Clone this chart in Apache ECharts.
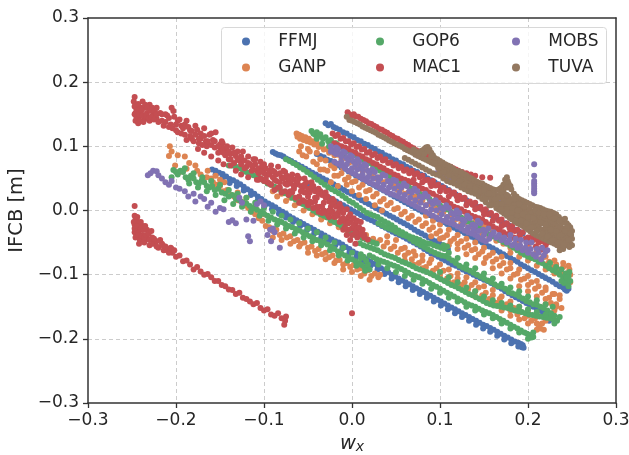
<!DOCTYPE html>
<html><head><meta charset="utf-8">
<style>html,body{margin:0;padding:0;background:#fff}#c{width:629px;height:455px}</style>
<script src="https://cdn.jsdelivr.net/npm/echarts@6/dist/echarts.min.js"></script>
</head><body><div id="c"></div>
<script>
// All values: flat x,y pairs, in thousandths.
const seriesNames = ['FFMJ','GANP','GOP6','MAC1','MOBS','TUVA'];
const ffmj = [
-30,136,-27,133,-24,135,-21,130,-18,128,-14,126,-10,122,-6,120,-2,116,2,114,6,110,10,108,14,104,18,102,22,98,26,96,30,92,34,90,38,86,42,84,46,80,50,78,54,74,58,72,62,68,66,66,70,62,74,60,78,56,82,54,86,50,90,47,94,44,98,41,102,38,106,35,110,32,114,28,118,25,122,22,126,19,130,16,134,12,138,9,142,6,146,3,150,0,154,-4,158,-7,162,-10,166,-14,170,-17,174,-20,178,-23,182,-27,186,-30,190,-33,194,-36,
-40,88,-36,85,-32,83,-28,79,-24,77,-20,73,-16,71,-12,67,-8,65,-4,61,0,58,4,55,8,52,12,49,16,46,20,43,24,40,28,37,32,34,36,31,40,28,44,25,48,22,52,19,56,16,60,13,64,10,68,7,72,4,76,1,80,-2,84,-4,88,-7,92,-10,96,-13,100,-15,104,-18,108,-21,112,-24,116,-27,120,-30,124,-32,128,-35,132,-38,136,-41,140,-44,144,-47,148,-50,152,-53,156,-56,160,-59,164,-62,168,-65,172,-68,176,-71,180,-74,184,-77,188,-80,192,-84,196,-87,200,-90,204,-93,208,-96,212,-99,216,-102,220,-105,224,-108,228,-111,232,-115,236,-118,240,-120,242,-123,244,-125,246,-122,245,-118,241,-116,
-90,91,-87,89,-84,87,-81,86,-78,84,-75,81,-72,79,-69,77,-65,74,-61,71,-57,68,-53,65,-49,62,-45,59,-41,56,-37,53,-33,50,-29,47,-25,44,-21,41,-17,38,-13,35,-9,32,-5,29,-1,26,3,23,7,20,11,16,15,13,19,10,23,7,27,4,31,1,35,-2,39,-5,43,-8,47,-11,51,-14,55,-17,59,-20,63,-23,67,-26,71,-30,75,-33,79,-36,83,-39,87,-42,91,-45,95,-48,99,-51,103,-54,106,-56,109,-60,
-50,38,-46,35,-42,32,-38,30,-34,27,-30,24,-26,20,-22,17,-18,14,-14,11,-10,8,-6,5,-2,2,2,-1,6,-4,10,-7,14,-10,18,-13,22,-15,26,-18,30,-21,34,-24,38,-27,42,-30,46,-33,50,-36,54,-38,58,-41,62,-44,66,-47,70,-50,74,-53,78,-56,82,-60,86,-63,90,-67,94,-69,98,-72,102,-75,106,-78,110,-81,114,-84,118,-86,122,-89,126,-92,130,-95,134,-97,138,-100,142,-103,146,-105,150,-108,154,-110,158,-113,162,-116,166,-119,170,-122,174,-126,178,-129,182,-132,186,-135,190,-138,194,-141,198,-144,202,-147,206,-150,210,-153,214,-156,218,-159,222,-163,226,-169,224,-172,220,-168,216,-164,
-159,64,-155,62,-151,59,-147,57,-143,53,-139,49,-135,47,-131,44,-127,41,-123,37,-119,33,-115,30,-111,26,-107,22,-103,18,-99,14,-95,11,-91,8,-87,5,-83,1,-79,-2,-75,-5,-71,-9,-67,-12,-63,-15,-59,-18,-55,-21,-51,-24,-47,-27,-43,-30,-39,-33,-35,-36,-31,-39,-27,-42,-23,-45,-19,-48,-15,-50,-11,-53,-7,-57,-3,-60,1,-64,5,-67,9,-70,13,-73,17,-76,21,-80,25,-83,29,-86,33,-90,37,-93,41,-96,45,-100,49,-103,53,-106,57,-109,61,-112,65,-115,69,-118,73,-121,77,-124,81,-127,85,-130,89,-133,93,-136,97,-139,101,-142,105,-145,109,-148,113,-151,117,-154,121,-157,125,-160,129,-163,133,-166,137,-169,141,-172,145,-175,149,-178,153,-180,157,-183,161,-186,165,-189,169,-192,173,-195,177,-198,181,-201,185,-204,189,-206,192,-208,194,-210,195,-214,193,-213,
-155,56,-147,51,-139,43,-131,38,-123,31,-115,24,-107,16,-99,8,-91,2,-83,-5,-75,-11,-67,-18,-59,-24,-51,-30,-43,-36,-35,-42,-27,-48,-19,-54,-11,-59,-3,-66,5,-73,13,-79,21,-86,29,-92,37,-99,45,-106,53,-112,61,-118,69,-124,77,-130,85,-136,93,-142,101,-148,109,-154,117,-160,125,-166,133,-172,141,-178,149,-184,157,-189,165,-195,173,-201,181,-207,189,-212
];
const ganp = [
-63,120,-62,115,-60,118,-59,112,-57,116,-55,110,-53,114,-51,108,-49,112,-47,106,-45,108,-43,103,-40,105,-38,99,-35,100,-32,95,-29,96,-26,90,-23,92,-20,86,-16,87,-12,80,-8,82,-4,74,0,76,4,68,8,70,12,62,16,64,20,56,24,58,28,50,32,52,36,44,40,46,44,38,48,40,52,32,56,34,60,26,64,28,68,20,72,22,76,14,80,16,84,8,88,10,92,2,96,4,100,-4,104,-2,108,-10,112,-8,116,-15,120,-13,124,-21,128,-19,132,-27,136,-25,140,-32,144,-30,148,-37,152,-35,156,-42,160,-40,164,-47,168,-45,172,-52,176,-50,180,-58,184,-55,188,-62,192,-60,196,-67,200,-64,204,-72,208,-69,212,-77,216,-74,220,-84,224,-80,228,-88,232,-84,236,-92,240,-88,244,-98,247,-92,248,-100,244,-104,240,-99,
-60,92,-56,86,-52,84,-48,92,-44,76,-40,72,-36,80,-32,64,-28,62,-24,70,-20,66,-16,54,-12,58,-8,48,-4,52,0,44,4,46,8,36,12,40,16,30,20,32,24,22,28,26,32,14,36,18,40,8,44,12,48,2,52,4,56,-6,60,-2,64,-12,68,-8,72,-18,76,-14,80,-24,84,-20,88,-30,92,-26,96,-36,100,-32,104,-42,108,-38,112,-48,116,-44,120,-52,124,-48,128,-58,132,-54,136,-62,140,-60,144,-68,148,-64,152,-74,156,-70,160,-80,164,-76,168,-86,172,-82,176,-92,180,-90,184,-100,188,-98,192,-108,196,-106,200,-116,204,-112,208,-122,212,-118,216,-128,220,-124,224,-136,228,-130,232,-146,236,-138,238,-152,232,-150,226,-144,220,-138,
-90,30,-85,22,-80,26,-75,15,-70,20,-65,8,-60,12,-55,0,-50,5,-45,-6,-40,-2,-35,-14,-30,-10,-25,-20,-20,-16,-15,-26,-10,-22,-5,-32,0,-28,4,-38,8,-34,12,-42,16,-38,20,-48,24,-44,28,-50,32,-46,36,-56,40,-50,44,-60,48,-56,52,-66,56,-60,60,-70,64,-66,68,-76,72,-70,76,-82,80,-78,84,-88,88,-82,92,-94,96,-90,100,-100,104,-94,108,-106,112,-102,116,-112,120,-106,124,-116,128,-112,132,-122,136,-116,140,-126,144,-120,148,-132,152,-128,156,-138,160,-132,164,-144,168,-138,172,-150,176,-146,180,-156,184,-152,188,-162,192,-158,196,-168,200,-164,204,-172,208,-168,212,-178,216,-176,218,-186,214,-184,210,-176,
-205,92,-208,85,-207,100,-198,86,-190,84,-201,70,-196,60,-188,65,-182,52,-176,62,-170,48,-164,62,-160,50,-158,44,-154,40,-150,38,-146,30,-142,32,-138,24,-134,22,-130,16,-126,14,-122,8,-118,4,-114,-2,-110,-6,-106,-12,-102,-16,-98,-24,-94,-26,-90,-32,-86,-30,-82,-38,-78,-36,-74,-42,-70,-40,-66,-48,-62,-46,-58,-52,-54,-50,-50,-58,-46,-56,-42,-63,-38,-60,-34,-68,-30,-66,-26,-73,-22,-70,-18,-78,-14,-77,-10,-84,-6,-82,-2,-88,2,-85,6,-92,10,-90,14,-98,18,-93,22,-102,26,-98,30,-104,32,-100,
84,-8,92,-16,100,-22,110,-30,120,-38,130,-44,140,-50,150,-58,160,-66,170,-72,180,-82,190,-92,200,-102,210,-110,220,-120,230,-130,236,-132,
90,-40,100,-44,110,-54,120,-60,130,-68,140,-74,150,-82,160,-90,170,-98,180,-106,190,-118,200,-126,210,-134,220,-146,230,-156,
40,-40,50,-46,60,-58,70,-64,80,-70,90,-76,100,-84,110,-92,120,-98,130,-104,140,-112,150,-118,160,-124,170,-134,180,-142,190,-150,200,-156,210,-162,220,-172,
60,-78,70,-84,80,-90,90,-98,100,-106,110,-112,120,-118,130,-126,140,-134,150,-140,160,-146,170,-156,180,-164,190,-170,200,-176,210,-186,
120,-4,130,-10,140,-18,150,-24,160,-32,170,-38,180,-44,190,-50,200,-56,210,-64,220,-72,230,-78,240,-82,246,-86,
180,-66,190,-72,200,-78,210,-86,220,-92,230,-98,240,-110,248,-112,
-40,90,-30,78,-36,64,-20,54,-24,44,-16,38,-10,66,-6,40,0,30,8,24,16,18,26,8,34,0,-58,100,-50,96,
-90,-42,-80,-46,-70,-52,-60,-56,-50,-66,-40,-70,-30,-76,-20,-82,-10,-92,0,-96,10,-102,20,-108,-130,28,-120,20,-110,6,-100,-6,-185,74,-178,70,-172,56,-165,52,-155,54,-150,48,-145,44
];
const gop6 = [
-46,124,-44,120,-42,118,-40,122,-38,116,-36,119,-33,112,-30,114,-27,108,-24,110,-21,104,-18,105,-15,100,-12,98,-8,96,-4,92,0,90,4,86,8,84,12,80,16,76,20,74,24,70,28,66,32,62,36,60,40,56,44,52,48,50,52,46,56,44,60,40,64,38,68,34,72,32,76,28,80,24,84,22,88,18,92,14,96,12,100,8,104,4,108,2,112,-2,116,-5,120,-8,124,-11,128,-14,132,-17,136,-20,140,-23,144,-26,148,-30,152,-34,156,-37,160,-40,164,-43,168,-46,172,-49,176,-52,180,-55,184,-58,188,-62,192,-66,196,-69,200,-72,204,-74,208,-76,212,-80,216,-82,220,-86,224,-90,228,-93,232,-96,236,-100,240,-104,243,-108,245,-112,246,-118,243,-98,246,-102,241,-113,238,-110,
-75,80,-71,77,-67,74,-63,71,-59,67,-55,64,-51,60,-47,56,-43,52,-39,48,-35,44,-31,40,-27,36,-23,33,-19,30,-15,27,-11,23,-7,19,-3,15,1,12,5,8,9,4,13,0,17,-4,21,-6,25,-8,29,-10,33,-14,37,-17,41,-20,45,-23,49,-27,53,-31,57,-34,61,-37,65,-40,69,-42,73,-44,77,-46,81,-49,85,-51,89,-52,93,-54,97,-56,101,-58,105,-60,108,-56,104,-54,
-140,70,-136,70,-132,68,-128,66,-124,63,-120,60,-116,58,-112,55,-108,52,-104,50,-100,46,-96,42,-92,40,-88,37,-84,34,-80,30,-76,27,-72,24,-68,20,-64,17,-60,14,-56,10,-52,7,-48,4,-44,0,-40,-3,-36,-6,-32,-8,-28,-11,-24,-15,-20,-18,-16,-21,-12,-24,-8,-28,-4,-32,0,-35,4,-38,8,-40,12,-43,16,-45,20,-48,24,-50,28,-52,
30,-20,34,-23,38,-26,42,-28,46,-30,50,-33,54,-36,58,-38,62,-40,66,-44,70,-48,74,-51,78,-54,82,-57,86,-60,90,-63,94,-66,98,-68,102,-70,106,-71,110,-74,114,-78,118,-82,122,-86,126,-89,130,-91,134,-94,138,-97,142,-100,146,-103,150,-106,154,-109,158,-112,162,-115,166,-118,170,-119,174,-122,178,-127,182,-129,186,-131,190,-134,194,-137,198,-141,202,-143,206,-146,210,-147,214,-150,218,-152,222,-156,226,-160,
9,-51,13,-54,17,-56,21,-58,25,-60,29,-62,33,-65,37,-68,41,-70,45,-72,49,-74,53,-77,57,-80,61,-82,65,-84,69,-87,73,-90,77,-92,81,-94,85,-96,89,-98,93,-101,97,-104,101,-107,105,-110,109,-113,113,-116,117,-118,121,-121,125,-124,129,-127,133,-130,137,-132,141,-135,145,-138,149,-141,153,-144,157,-146,161,-148,165,-149,169,-150,173,-151,177,-152,181,-154,185,-156,189,-157,193,-158,197,-160,201,-162,205,-163,209,-164,213,-165,217,-166,221,-167,225,-168,229,-170,233,-172,230,-164,226,-161,
-203,63,-200,60,-198,56,-205,52,-195,62,-192,60,-189,52,-186,48,-183,54,-180,50,-177,44,-174,42,-171,46,-168,44,-165,38,-162,36,-159,38,-156,32,-152,34,-148,28,-144,26,-140,22,-136,24,-132,18,-128,16,-124,13,-120,11,-116,7,-112,4,-108,1,-104,-2,-100,-5,-96,-8,-92,-11,-88,-14,-84,-16,-80,-18,-76,-21,-72,-24,-68,-26,-64,-29,-60,-31,-56,-34,-52,-37,-48,-40,-44,-43,-40,-46,-36,-48,-32,-50,-28,-53,-24,-56,-20,-60,-16,-64,-12,-67,-8,-70,-4,-73,0,-76,4,-79,8,-82,11,-85,14,-88,17,-90,20,-92,18,-84,16,-78,13,-72,10,-68,
20,-70,24,-73,28,-76,32,-78,36,-80,40,-82,44,-84,48,-86,52,-88,56,-91,60,-94,64,-97,68,-100,72,-102,76,-104,80,-107,84,-110,88,-113,92,-116,96,-119,100,-122,104,-125,108,-128,112,-131,116,-134,120,-137,124,-140,128,-143,132,-146,136,-148,140,-150,144,-153,148,-156,152,-158,156,-160,160,-163,164,-166,168,-169,172,-172,176,-175,180,-178,184,-181,188,-184,192,-187,196,-190,199,-192,202,-194,204,-198,206,-197,206,-190,
-190,66,-180,58,-170,52,-160,46,-150,40,-140,32,-130,26,-120,20,-110,12,-100,4,-90,-2,-80,-8,-70,-14,-60,-20,-50,-28,-40,-34,-30,-42,-20,-50,-10,-58,0,-66,10,-74,
-185,42,-175,36,-165,30,-155,24,-145,16,-135,10,-125,6,-115,-2,-105,-8,-95,-16,-85,-22,-75,-28,-65,-36,-55,-42,-45,-48,-35,-54,-25,-62,-15,-70,-5,-78,5,-86,15,-94,
-40,112,-34,104,-26,100,-18,94,-10,88,-2,84,6,78,
30,-84,40,-90,50,-96,60,-102,70,-108,80,-114,90,-122,100,-128,110,-136,120,-142,130,-150,140,-156,150,-162,160,-168,170,-176,180,-184,190,-190,200,-200,
100,-96,110,-104,120,-112,130,-120,140,-126,150,-134,160,-140,170,-144,180,-148,190,-150,200,-154,210,-158,220,-162,230,-176,236,-166,
110,-66,120,-74,130,-84,140,-90,150,-98,160,-106,170,-114,180,-120,190,-126,200,-134,210,-140,220,-146,228,-150,
225,-82,232,-88,238,-92,244,-104,248,-110,247,-96
];
const mac1 = [
-5,153,-3,150,-1,148,2,150,4,147,7,146,10,143,13,141,16,139,19,136,22,135,25,132,28,130,31,127,34,126,37,123,40,121,43,118,46,116,49,113,52,112,55,109,58,107,61,104,64,102,67,99,70,97,73,94,76,92,79,90,82,88,85,86,88,84,91,82,94,80,97,78,100,75,103,72,106,71,109,69,112,68,115,66,118,64,121,62,125,60,130,58,135,56,140,54,148,52,157,51,
-22,120,-19,116,-16,118,-13,112,-10,113,-7,108,-4,108,-1,103,2,105,5,99,8,100,11,95,14,96,17,90,20,91,23,86,26,88,29,82,32,84,35,78,38,80,41,74,44,75,47,70,50,72,53,66,56,68,59,62,62,64,65,58,68,62,71,56,74,58,77,52,80,54,83,47,86,48,89,43,92,46,95,39,98,40,101,35,104,36,107,30,110,31,113,26,116,28,119,22,122,23,125,18,128,20,131,13,134,14,137,9,140,12,143,4,146,6,149,0,152,2,155,-6,158,-4,161,-11,164,-8,167,-16,170,-14,173,-22,176,-20,179,-27,182,-24,185,-32,188,-30,191,-38,194,-34,197,-44,200,-42,203,-50,206,-46,209,-56,212,-50,215,-60,216,-48,219,-62,220,-54,222,-50,213,-62,
-20,105,-16,102,-12,100,-8,98,-4,96,0,92,4,90,8,86,12,84,16,80,20,78,24,74,28,72,32,68,36,66,40,62,44,60,48,56,52,54,56,50,60,48,64,46,68,44,72,40,76,38,80,34,84,32,88,28,92,26,96,22,100,20,104,16,108,14,112,10,116,6,120,4,124,2,128,-2,132,-4,136,-8,140,-10,144,-12,148,-14,152,-18,156,-22,160,-25,164,-28,168,-31,172,-34,176,-37,180,-40,184,-42,188,-44,
-247,177,-246,165,-245,158,-247,150,-244,146,-246,140,-243,136,-240,160,-240,148,-238,170,-236,160,-236,142,-233,152,-230,165,-230,140,-226,150,-222,143,-222,160,-216,140,-212,150,-208,130,-205,160,-203,155,-200,125,-198,140,-194,132,-190,118,-188,140,-184,125,-182,112,-178,132,-174,105,-172,120,-168,128,-165,100,-162,118,-158,110,-155,122,-150,103,-147,105,-150,92,-143,96,-140,80,-136,98,-132,85,-128,78,-124,92,-120,68,-118,84,-112,80,-108,62,-104,76,-100,72,-96,56,-92,70,-88,60,-84,68,-80,52,-76,60,-72,48,-68,56,-64,40,-60,50,-56,36,-52,44,-48,28,-44,38,-40,20,-36,30,-32,12,-28,22,-24,6,-20,14,-16,-4,-12,4,-8,-18,-4,-10,0,-28,4,-20,8,-36,12,-30,18,-45,14,-38,6,-42,
-175,96,-168,90,-160,84,-152,78,-146,72,-138,70,-132,62,-126,56,-118,52,-112,64,-106,48,-100,58,-94,42,-88,48,-82,36,-76,42,-70,30,-66,34,-60,22,-54,28,-48,14,-42,20,-36,6,-30,-2,-26,-10,-22,-2,-14,-18,-10,-30,-6,-38,-2,-46,4,-52,
-172,112,-166,108,-160,102,-156,98,-152,90,-148,98,-144,86,-138,88,-134,74,-130,92,-126,72,-122,78,-116,72,-114,62,-110,72,-106,66,-102,62,-98,66,-94,56,-90,52,-86,56,-82,58,-78,50,-74,54,-70,42,-66,48,-62,44,-58,38,-54,40,-50,34,-46,36,-42,30,-38,26,-34,24,-30,20,-26,14,-22,10,-18,6,-14,0,-10,-4,-6,-14,-2,-18,2,-24,6,-28,10,-36,14,-42,0,-38,-4,-30,-8,-26,-12,-14,-16,-8,-20,-10,-24,-4,-28,-6,-32,0,-34,-4,-38,-2,-40,6,-44,4,-46,12,-50,8,-54,14,-56,16,-60,12,-64,20,-68,28,-72,24,-76,30,-80,28,-84,36,-88,32,-92,40,-96,44,-100,46,-104,50,-108,48,
-248,170,-247,162,-246,152,-245,146,-244,156,-243,166,-242,150,-241,140,-239,156,-238,148,-237,138,-235,165,-234,148,-232,160,-231,144,-229,156,-228,146,-227,160,-225,142,-224,155,-222,150,-220,138,-218,152,-216,150,-214,132,-212,138,-210,148,-208,144,-206,134,-204,128,-202,146,-200,134,-198,122,-196,142,-194,120,-192,128,-190,134,-188,110,-186,130,-184,116,-182,124,-180,108,-178,118,-176,126,-174,112,-170,102,-168,116,-164,108,-160,120,-156,108,-152,100,-148,108,-146,90,-142,100,-140,92,-138,80,-134,90,-130,80,-126,84,-122,66,-118,74,-114,70,-110,80,-106,58,-102,70,-98,50,-94,62,-90,62,-86,46,-82,44,-78,62,-74,40,-70,52,-66,38,-62,54,-58,30,-54,50,-50,22,-46,44,-42,14,-38,34,-34,6,-30,28,-26,0,-22,18,-18,-8,-14,10,-10,-12,-6,2,-2,-6,2,-12,6,-16,10,-18,-4,-20,4,-34,8,-26,12,-38,
70,48,80,44,90,38,100,30,110,22,120,16,130,8,140,2,150,-6,160,-16,170,-24,180,-32,190,-40,200,-50,205,-40,210,-44,214,-44,218,-48,
-247,7,-247,-8,-246,-14,-247,-22,-245,-28,-247,-34,-245,-40,-243,-18,-242,-32,-241,-46,-238,-24,-238,-38,-236,-50,-233,-30,-232,-44,-230,-54,-227,-42,-226,-52,-222,-48,-220,-58,-216,-52,-214,-62,-210,-62,-206,-58,-204,-66,-200,-72,-196,-70,-192,-79,-188,-78,-184,-84,-180,-92,-176,-88,-172,-95,-168,-100,-164,-99,-160,-104,-156,-110,-152,-110,-148,-116,-144,-118,-140,-123,-136,-124,-132,-130,-128,-128,-124,-136,-120,-138,-116,-142,-112,-146,-108,-144,-104,-152,-100,-156,-96,-154,-92,-162,-88,-164,-84,-160,-80,-168,-76,-172,-75,-165,-77,-178,
-248,-18,-247,-28,-246,-42,-244,-10,-244,-24,-243,-38,-242,-52,-240,-18,-240,-28,-239,-40,-237,-30,-236,-42,-235,-24,-234,-38,-231,-36,-230,-46,-228,-32,-225,-44,-222,-56,-218,-46,-215,-54,-212,-56,-208,-66,-205,-60,-202,-62,
0,-160
];
const mobs = [
-232,55,-229,58,-226,62,-222,61,-220,55,-216,50,-212,44,-208,40,-205,46,-200,36,-196,34,-190,30,-186,22,-180,26,-178,14,-172,22,-168,18,-164,6,-160,12,-155,-2,-150,4,-146,2,-140,-18,-136,-15,-132,-20,-128,20,-125,12,-120,-14,-118,-40,-116,-48,-112,-16,-108,10,-104,14,-100,8,-96,-38,-93,-30,-90,-28,-92,-48,-88,-34,-82,-58,
-24,100,-22,94,-20,90,-18,98,-16,96,-14,88,-12,84,-10,92,-8,90,-6,82,-4,78,-2,86,0,84,2,76,4,72,6,80,8,76,10,68,12,64,14,72,16,70,18,62,20,58,23,64,26,60,29,52,32,50,35,56,38,54,41,46,44,42,47,48,50,46,53,38,56,36,59,42,62,38,65,30,68,28,71,34,74,30,77,22,80,20,83,26,86,22,89,14,92,10,95,16,98,12,101,4,104,2,107,8,110,4,113,-4,116,-6,119,0,122,-4,125,-14,128,-16,131,-8,134,-12,137,-22,140,-24,143,-16,146,-20,149,-30,152,-32,155,-28,158,-38,161,-34,164,-42,167,-38,170,-46,173,-42,176,-50,179,-46,182,-54,185,-52,188,-58,191,-54,194,-62,197,-58,200,-66,203,-60,206,-68,209,-72,212,-66,215,-76,218,-70,220,-64,
-20,76,-16,73,-12,70,-8,66,-4,62,0,59,4,56,8,53,12,50,16,47,20,44,24,41,28,38,32,35,36,32,40,29,44,26,48,24,52,22,56,19,60,16,64,13,68,10,72,7,76,4,80,1,84,-2,88,-5,92,-8,96,-11,100,-14,104,-16,108,-18,112,-20,116,-22,120,-25,124,-28,128,-31,132,-34,136,-36,140,-38,143,-41,146,-44,149,-46,152,-48,
96,58,100,55,104,52,108,50,112,48,116,45,120,42,124,39,128,36,132,34,136,32,140,30,144,28,148,26,152,24,156,22,160,20,164,17,168,14,172,11,176,8,180,5,184,2,188,2,192,2,196,0,200,-2,204,-3,208,-4,212,-5,216,-6,220,-7,224,-8,228,-7,230,-6,
-24,92,-18,88,-12,76,-6,72,0,66,6,64,12,56,18,52,24,50,30,44,36,40,42,36,48,34,54,28,60,24,66,20,72,16,78,12,84,8,90,2,96,0,102,-6,108,-10,114,-14,120,-12,126,-22,132,-26,138,-30,144,-32,150,-38,156,-44,
180,-38,186,-44,192,-46,198,-50,204,-50,210,-60,216,-58,222,-62,
207,72,207,54,207,46,207,42,207,38,207,34,207,30,207,27
];
const tuva = [
-6,146,-3,141,0,140,3,138,6,136,9,134,12,131,15,129,18,127,21,125,24,123,27,121,30,118,33,116,36,114,39,112,42,109,45,107,48,105,51,103,54,101,57,99,60,96,63,94,66,92,69,90,72,87,75,85,78,83,81,81,84,79,87,77,90,75,93,73,96,71,99,69,102,67,105,65,108,63,111,61,114,59,117,57,120,55,123,52,126,50,129,48,132,46,135,44,138,42,141,40,144,38,147,36,150,34,153,32,156,30,159,28,162,25,165,23,168,21,171,19,174,17,177,15,180,13,183,10,186,7,189,5,192,3,195,1,198,-1,201,-4,204,-6,207,-9,210,-11,213,-14,216,-16,219,-19,222,-21,225,-24,228,-26,231,-29,234,-31,237,-34,240,-36,243,-39,246,-41,248,-44,
70,95,73,92,76,90,79,93,82,96,84,98,86,99,88,95,90,90,92,86,94,82,97,80,100,77,103,75,106,72,109,70,112,68,115,65,118,62,121,61,124,60,127,57,130,55,133,52,136,50,139,47,142,45,145,43,148,42,151,39,154,37,157,35,160,33,163,32,166,32,168,34,170,36,172,40,174,48,175,44,176,52,177,46,178,42,180,38,181,33,176,36,172,30,184,26,187,22,190,18,193,16,196,14,199,12,202,10,205,8,208,6,211,5,214,4,217,2,220,0,223,-1,226,-2,229,-4,232,-6,235,-10,238,-14,241,-17,244,-20,246,-23,248,-26,250,-32,249,-38,246,-34,250,-44,248,-52,243,-48,250,-54,
60,82,64,79,68,76,72,73,76,70,80,67,84,64,88,61,92,58,96,56,100,54,104,50,108,46,112,44,116,42,120,39,124,36,128,33,132,30,136,28,140,26,144,22,148,18,152,13,156,8,158,11,160,14,162,9,164,4,167,1,170,-2,173,-5,176,-8,179,-11,182,-14,185,-17,188,-20,191,-22,194,-24,197,-27,200,-30,203,-33,206,-36,209,-38,212,-40,215,-42,218,-44,221,-46,224,-48,227,-50,230,-52,233,-54,236,-56,238,-58,240,-60,244,-54,247,-57,236,-62,
130,38,134,36,138,34,142,31,146,28,150,25,154,22,158,18,162,14,165,12,168,10,171,7,174,4,177,2,180,0,183,-3,186,-6,189,-8,192,-10,195,-12,198,-14,201,-17,204,-20,207,-23,210,-26,213,-28,216,-30,219,-33,222,-36,225,-38,228,-40,231,-42,234,-44,237,-46,240,-48,
170,28,174,25,178,22,182,18,186,14,189,11,192,8,195,5,198,2,201,0,204,-2,207,-4,210,-6,213,-8,216,-10,219,-12,222,-14,225,-16,228,-18,231,-21,234,-24,237,-26,240,-28,243,-29,246,-30,
164,14,168,24,172,20,176,24,180,16,184,8,188,-4,192,-4,196,-8,200,-14,204,-10,208,-14,212,-22,216,-20,220,-26,224,-28,228,-32,232,-36,236,-40,240,-42,244,-44,168,6,172,-2,176,-2,180,-6,184,-12,188,-14,
100,62,106,58,112,54,118,50,124,44,130,42,136,36,142,32,148,28,154,26,160,24,166,20,172,8,178,8,184,4,190,0,196,-4,202,-10,208,-16,214,-18,220,-22,226,-30,232,-32,238,-38,244,-48,
110,54,116,50,122,46,128,40,134,38,140,34,146,30,152,18,158,8,164,8,170,2,176,2,182,-2,188,-8,194,-18,200,-22,206,-26,212,-30,218,-38,224,-42,230,-46,236,-50,242,-52,
160,26,166,10,172,14,178,14,184,18,190,10,196,6,202,4,208,0,214,-4,220,-8,226,-10,232,-14,238,-20,244,-26,248,-36,
150,32,156,26,162,18,170,10,176,-4,182,4,188,0,194,-6,200,-10,206,-12,212,-4,218,-6,224,-6,230,-12,236,-16,242,-32,246,-46,
180,-12,186,-16,192,-16,198,-20,204,-26,210,-32,216,-36,222,-40,228,-46,234,-50,240,-54,
86,92,82,88,90,84,94,74,98,66,104,60,242,-13
];
const colors = ['#4c72b0','#dd8452','#55a868','#c44e52','#8172b3','#937860'];
const values = [ffmj,ganp,gop6,mac1,mobs,tuva];
function pairs(a){const r=[];for(let i=0;i<a.length;i+=2)r.push([a[i]/1000,a[i+1]/1000]);return r;}
const INK='#262626', FS=17, FF='"DejaVu Sans"';
const base={min:-0.3,max:0.3,interval:0.1};
const fmt=v=>{const s=Math.abs(v).toFixed(1);return v<-1e-9?'\u2212'+s:s;};
const split={show:true,showMinLine:false,showMaxLine:false,lineStyle:{color:'#cccccc',type:[4,3],width:1}};
const axisL={show:true,onZero:false,lineStyle:{color:'#333333',width:1.5}};
const hiddenAxis=(pos)=>({type:'value',position:pos,...base,axisLine:axisL,axisTick:{show:false},axisLabel:{show:false},splitLine:{show:false}});
function legend(left,names){return {left,top:33,orient:'vertical',padding:0,itemWidth:54.6,itemHeight:8,itemGap:9,icon:'circle',selectedMode:false,
  textStyle:{color:INK,fontSize:FS,fontFamily:FF},data:names,z:20};}
const chart=echarts.init(document.getElementById('c'),null,{renderer:'canvas'});
chart.setOption({
 animation:false,
 grid:{left:88,right:13,top:18,bottom:52,outerBoundsMode:'none'},
 graphic:[{type:'rect',z:15,shape:{x:221.5,y:27.5,width:385,height:56,r:3},style:{fill:'rgba(255,255,255,0.8)',stroke:'#d8d8d8',lineWidth:1}}],
 legend:[legend(242,['FFMJ','GANP']),legend(376,['GOP6','MAC1']),legend(512,['MOBS','TUVA'])],
 xAxis:[{type:'value',...base,axisLine:axisL,axisTick:{show:true,length:5,lineStyle:{color:'#333',width:1.3}},
   axisLabel:{color:INK,fontSize:FS,fontFamily:FF,margin:9,formatter:fmt},splitLine:split,
   name:'{i|w}{s|x}',nameLocation:'middle',nameGap:30,
   nameTextStyle:{rich:{i:{fontSize:19.5,fontFamily:FF,fontStyle:'italic',color:INK},s:{fontSize:14,fontFamily:FF,fontStyle:'italic',color:INK,padding:[7,0,0,0]}}}},
   hiddenAxis('top')],
 yAxis:[{type:'value',...base,axisLine:axisL,axisTick:{show:true,length:5,lineStyle:{color:'#333',width:1.3}},
   axisLabel:{color:INK,fontSize:FS,fontFamily:FF,margin:9,formatter:fmt},splitLine:split,
   name:'IFCB [m]',nameLocation:'middle',nameGap:57,nameTextStyle:{color:INK,fontSize:19.5,fontFamily:FF}},
   hiddenAxis('right')],
 series:seriesNames.map((n,i)=>({name:n,type:'scatter',data:pairs(values[i]),symbol:'circle',symbolSize:6,z:2+i,
   itemStyle:{color:colors[i],opacity:1},emphasis:{disabled:true}}))
});
</script></body></html>
